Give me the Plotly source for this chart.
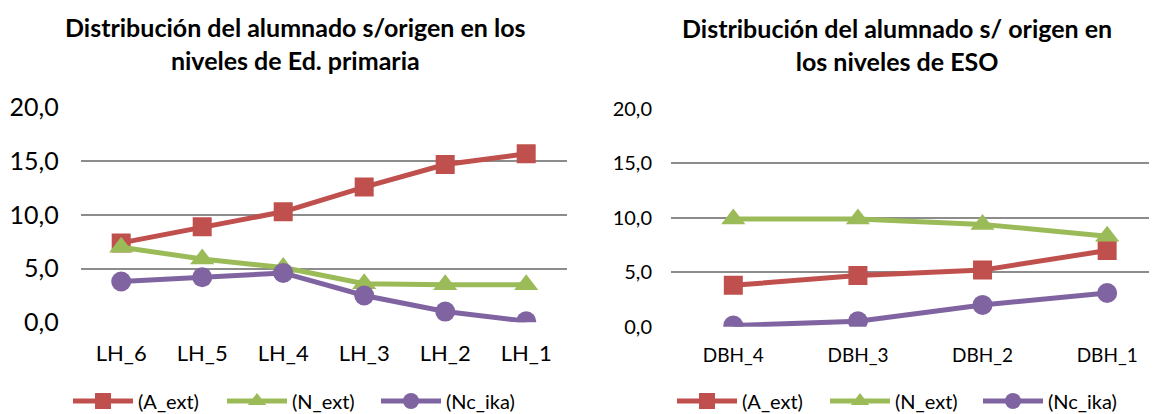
import plotly.graph_objects as go

# Primary levels (left chart)
prim_levels = ['LH_6', 'LH_5', 'LH_4', 'LH_3', 'LH_2', 'LH_1']
prim_a_ext = [7.4, 8.9, 10.3, 12.6, 14.7, 15.7]
prim_n_ext = [7.0, 5.9, 5.1, 3.6, 3.5, 3.5]
prim_nc_ika = [3.8, 4.2, 4.6, 2.5, 1.0, 0.1]

# ESO levels (right chart)
eso_levels = ['DBH_4', 'DBH_3', 'DBH_2', 'DBH_1']
eso_a_ext = [3.8, 4.7, 5.2, 7.0]
eso_n_ext = [9.9, 9.9, 9.4, 8.3]
eso_nc_ika = [0.1, 0.5, 2.0, 3.1]

series_names = ['(A_ext)', '(N_ext)', '(Nc_ika)']
colors = ['#C0504D', '#9BBB59', '#8064A2']
symbols = ['square', 'triangle-up', 'circle']
sizes = [19, 21, 20]

FONT = 'Lato, Carlito, Calibri, sans-serif'

# page body has an 8px margin, so the figure starts at (8, 8) in the window
OFF = 8
FW, FH = 1157 - OFF, 414 - OFF


def fx(px):
    return (px - OFF) / FW


def fy(py):
    return 1 - (py - OFF) / FH


fig = go.Figure()

for name, vals, col, sym, sz in zip(series_names, [prim_a_ext, prim_n_ext, prim_nc_ika], colors, symbols, sizes):
    fig.add_trace(go.Scatter(
        x=prim_levels, y=vals, name=name, mode='lines+markers',
        line=dict(color=col, width=5),
        marker=dict(symbol=sym, size=sz, color=col),
        xaxis='x', yaxis='y', legend='legend'))

for name, vals, col, sym, sz in zip(series_names, [eso_a_ext, eso_n_ext, eso_nc_ika], colors, symbols, sizes):
    fig.add_trace(go.Scatter(
        x=eso_levels, y=vals, name=name, mode='lines+markers',
        line=dict(color=col, width=5),
        marker=dict(symbol=sym, size=sz, color=col),
        xaxis='x2', yaxis='y2', legend='legend2'))

fig.update_layout(
    width=FW, height=FH,
    margin=dict(l=0, r=0, t=0, b=0, autoexpand=False),
    paper_bgcolor='white', plot_bgcolor='white',
    separators=',.',
    font=dict(family=FONT, color='#000000'),
    xaxis=dict(domain=[fx(80.7), fx(566.7)], range=[-0.5, 5.5], showgrid=False,
               zeroline=False, showline=False, ticks='', ticklabelstandoff=16,
               tickfont=dict(size=22), anchor='y'),
    yaxis=dict(domain=[fy(322.3), fy(107.7)], range=[0, 20], dtick=5,
               tickformat='.1f', showgrid=True, gridcolor='#8C8C8C', gridwidth=2,
               zeroline=False, showline=False, tickfont=dict(size=25), ticks='',
               ticklabelstandoff=21, anchor='x'),
    xaxis2=dict(domain=[fx(671), 1.0], range=[-0.5, 3.4], showgrid=False, zeroline=False,
                showline=False, ticks='', ticklabelstandoff=15,
                tickfont=dict(size=19), anchor='y2'),
    yaxis2=dict(domain=[fy(326.7), fy(109)], range=[0, 20], dtick=5,
                tickformat='.1f', showgrid=True, gridcolor='#8C8C8C', gridwidth=2,
                zeroline=False, showline=False, tickfont=dict(size=20), ticks='',
                ticklabelstandoff=18, anchor='x2'),
    legend=dict(orientation='h', x=fx(68), y=fy(401), xanchor='left', yanchor='middle',
                font=dict(size=20), itemwidth=60, entrywidth=79,
                bgcolor='rgba(0,0,0,0)'),
    legend2=dict(orientation='h', x=fx(672), y=fy(401), xanchor='left', yanchor='middle',
                 font=dict(size=20), itemwidth=60, entrywidth=78,
                 bgcolor='rgba(0,0,0,0)'),
    annotations=[
        dict(text='<b>Distribución del alumnado s/origen en los<br>niveles de Ed. primaria</b>',
             x=fx(295), y=fy(43), xref='paper', yref='paper', showarrow=False,
             font=dict(size=25), align='center', xanchor='center', yanchor='middle'),
        dict(text='<b>Distribución del alumnado s/ origen en<br>los niveles de ESO</b>',
             x=fx(897), y=fy(44), xref='paper', yref='paper', showarrow=False,
             font=dict(size=25), align='center', xanchor='center', yanchor='middle'),
    ],
)

fig.write_html('out.html')
